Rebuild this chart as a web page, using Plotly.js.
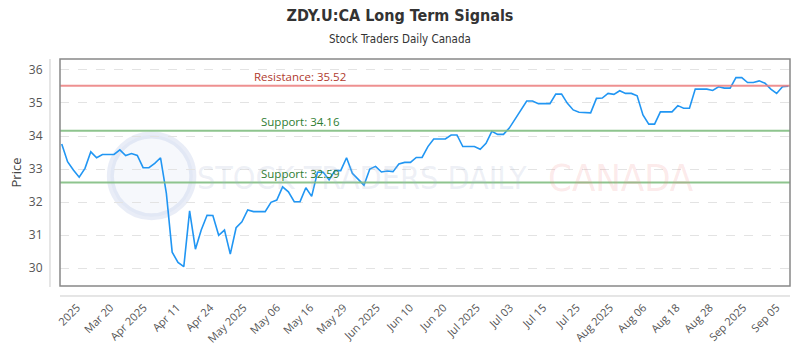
<!DOCTYPE html>
<html>
<head>
<meta charset="utf-8">
<script src="https://cdn.plot.ly/plotly-3.0.1.min.js"></script>
<style>html,body{margin:0;padding:0;background:#fff;}#chart{width:800px;height:350px;}</style>
</head>
<body>
<div id="chart"></div>
<script>
// ---- data ----
const prices = [
  33.76, 33.22, 32.97, 32.75, 33.02, 33.52, 33.34, 33.44, 33.44, 33.44,
  33.58, 33.41, 33.47, 33.41, 33.04, 33.04, 33.17, 33.34, 32.26, 30.48,
  30.17, 30.04, 31.73, 30.57, 31.15, 31.60, 31.59, 30.99, 31.15, 30.42,
  31.22, 31.40, 31.76, 31.71, 31.71, 31.71, 31.99, 32.06, 32.46, 32.31,
  32.01, 32.01, 32.43, 32.17, 32.90, 32.90, 32.67, 32.95, 32.95, 33.34,
  32.87, 32.70, 32.51, 33.00, 33.08, 32.91, 32.94, 32.92, 33.15, 33.20,
  33.20, 33.35, 33.35, 33.68, 33.91, 33.91, 33.91, 34.03, 34.03, 33.68,
  33.68, 33.68, 33.60, 33.78, 34.14, 34.05, 34.05, 34.24, 34.51, 34.79,
  35.06, 35.06, 34.98, 34.98, 34.98, 35.27, 35.27, 34.99, 34.79, 34.72,
  34.70, 34.70, 35.14, 35.15, 35.29, 35.26, 35.37, 35.29, 35.29, 35.22,
  34.64, 34.36, 34.36, 34.73, 34.73, 34.73, 34.92, 34.84, 34.84, 35.42,
  35.42, 35.42, 35.38, 35.49, 35.45, 35.45, 35.77, 35.77, 35.62, 35.62,
  35.67, 35.60, 35.42, 35.29, 35.49, 35.51
];
const tickLabels = ["2025","Mar 20","Apr 2025","Apr 11","Apr 24","May 2025","May 06","May 16","May 29","Jun 2025",
  "Jun 10","Jun 20","Jul 2025","Jul 03","Jul 15","Jul 25","Aug 2025","Aug 06","Aug 18","Aug 28","Sep 2025","Sep 05"];
const resistance = 35.52;
const supports = [34.16, 32.59];
const yTicks = [30, 31, 32, 33, 34, 35, 36];

// ---- build ----
const xIdx = prices.map((_, i) => i);
const firstTick = 2.65, tickStep = 5.73;
const tickVals = tickLabels.map((_, i) => firstTick + i * tickStep);

const trace = {
  x: xIdx, y: prices, type: 'scatter', mode: 'lines',
  line: {color: '#2196f3', width: 1.6},
  hoverinfo: 'skip', showlegend: false
};

const levelLine = (y, color) => ({
  type: 'line', xref: 'paper', yref: 'y', x0: 0, x1: 1, y0: y, y1: y,
  line: {color: color, width: 2}, layer: 'above'
});

const shapes = [
  // watermark logo ring
  {type: 'circle', xref: 'paper', yref: 'paper', x0: 0.069, x1: 0.182, y0: 0.305, y1: 0.665,
   line: {color: 'rgba(175,190,225,0.28)', width: 7}, fillcolor: 'rgba(205,215,238,0.18)', layer: 'below'},
  levelLine(resistance, 'rgba(235,125,125,0.85)'),
  levelLine(supports[0], 'rgba(130,190,130,0.9)'),
  levelLine(supports[1], 'rgba(130,190,130,0.9)'),
  // plot frame
  {type: 'rect', xref: 'paper', yref: 'paper', x0: 0, x1: 1, y0: 0, y1: 1,
   line: {color: '#888', width: 1.5}, layer: 'above'},
  // offset axis lines
  {type: 'line', xref: 'paper', yref: 'paper', x0: 0, x1: 1, y0: -0.044, y1: -0.044,
   line: {color: '#ccc', width: 1}},
  {type: 'line', xref: 'paper', yref: 'paper', x0: -0.0137, x1: -0.0137, y0: -0.0044, y1: 1,
   line: {color: '#ccc', width: 1}}
];

const annFont = (c) => ({family: 'Open Sans, sans-serif', size: 11.5, color: c});
const wmFont = (c, s) => ({family: 'DejaVu Sans Condensed, DejaVu Sans, sans-serif', size: s, color: c});
const annotations = [
  // watermark
  {xref: 'paper', yref: 'paper', x: 0.414, y: 0.476, xanchor: 'center', showarrow: false, text: 'STOCK TRADERS DAILY',
   font: wmFont('rgba(165,180,210,0.2)', 32)},
  {xref: 'paper', yref: 'paper', x: 0.769, y: 0.476, xanchor: 'center', showarrow: false, text: 'CANADA',
   font: wmFont('rgba(240,130,130,0.18)', 38)},
  {xref: 'paper', yref: 'y', x: 0.329, y: resistance, xanchor: 'center', text: 'Resistance: ' + resistance.toFixed(2),
   showarrow: false, yanchor: 'bottom', font: annFont('#b03a2e')},
  {xref: 'paper', yref: 'y', x: 0.329, y: supports[0], xanchor: 'center', text: 'Support: ' + supports[0].toFixed(2),
   showarrow: false, yanchor: 'bottom', font: annFont('#2e7d32')},
  {xref: 'paper', yref: 'y', x: 0.329, y: supports[1], xanchor: 'center', text: 'Support: ' + supports[1].toFixed(2),
   showarrow: false, yanchor: 'bottom', font: annFont('#2e7d32')},
  // subtitle
  {xref: 'paper', yref: 'paper', x: 0.466, y: 1, yshift: 20, xanchor: 'center', showarrow: false, yanchor: 'middle',
   text: 'Stock Traders Daily Canada',
   font: {family: 'DejaVu Sans Condensed, DejaVu Sans, sans-serif', size: 11.5, color: '#333'}}
];

const layout = {
  width: 800, height: 350,
  margin: {l: 60, r: 10, t: 59, b: 64},
  paper_bgcolor: '#fff', plot_bgcolor: '#fff',
  title: {text: '<b>ZDY.U:CA Long Term Signals</b>', x: 0.5, xanchor: 'center', y: 0.955, yanchor: 'middle',
          font: {family: 'DejaVu Sans Condensed, DejaVu Sans, sans-serif', size: 16, color: '#333'}},
  xaxis: {
    range: [-0.3, 125.3], showgrid: false, zeroline: false, showline: false,
    tickmode: 'array', tickvals: tickVals, ticktext: tickLabels, tickangle: -45,
    ticks: 'outside', ticklen: 10, tickcolor: 'rgba(0,0,0,0)',
    tickfont: {family: 'Open Sans, sans-serif', size: 11, color: '#555'}
  },
  yaxis: {
    range: [29.455, 36.333], showgrid: true, gridcolor: '#e3e3e3', griddash: 'dash', gridwidth: 1,
    zeroline: false, showline: false,
    tickmode: 'array', tickvals: yTicks, ticktext: yTicks.map(String),
    ticks: 'outside', ticklen: 14, tickcolor: 'rgba(0,0,0,0)',
    tickfont: {family: 'Open Sans, sans-serif', size: 12, color: '#555'},
    title: {text: 'Price', standoff: 4, font: {family: 'Open Sans, sans-serif', size: 13, color: '#444'}}
  },
  shapes: shapes,
  annotations: annotations
};

Plotly.newPlot('chart', [trace], layout, {staticPlot: true, displayModeBar: false});
</script>
</body>
</html>
